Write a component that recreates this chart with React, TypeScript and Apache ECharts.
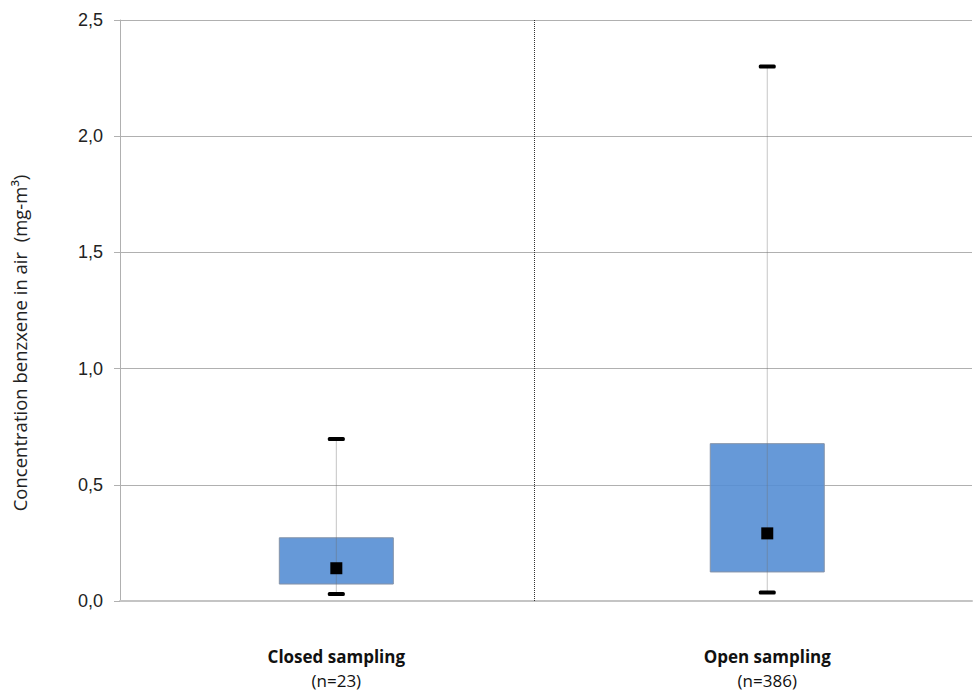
import React, { useEffect, useRef } from "react";
import * as echarts from "echarts";

const categories = ["Closed sampling", "Open sampling"];
const sampleSizes = ["(n=23)", "(n=386)"];
const catPositions = [25.39, 75.97];
const minValues = [0.03, 0.037];
const q1Values = [0.073, 0.125];
const q3Values = [0.272, 0.677];
const maxValues = [0.697, 2.3];
const meanValues = [0.141, 0.291];
const dividerPosition = 48.63;
const yAxisTitle = "Concentration benzxene in air  (mg-m³)";

export default function App() {
  const ref = useRef<HTMLDivElement>(null);
  useEffect(() => {
    if (!ref.current) return;
    const chart = echarts.init(ref.current, null, { renderer: "svg" });
    const data = categories.map((c, i) => [
      catPositions[i],
      minValues[i],
      q1Values[i],
      q3Values[i],
      maxValues[i],
      meanValues[i],
      i,
    ]);
    const renderItem = (params: any, api: any) => {
      const x = api.value(0);
      const idx = api.value(6);
      const pMin = api.coord([x, api.value(1)]);
      const pQ1 = api.coord([x, api.value(2)]);
      const pQ3 = api.coord([x, api.value(3)]);
      const pMax = api.coord([x, api.value(4)]);
      const pMean = api.coord([x, api.value(5)]);
      const pZero = api.coord([x, 0]);
      const cx = pQ1[0];
      const boxW = 114;
      const capW = 17;
      const capH = 4;
      const sq = 12;
      return {
        type: "group",
        children: [
          {
            type: "rect",
            shape: { x: cx - boxW / 2, y: pQ3[1], width: boxW, height: pQ1[1] - pQ3[1] },
            style: { fill: "rgba(85,142,212,0.9)", stroke: "#8593a8", lineWidth: 1 },
          },
          {
            type: "line",
            shape: { x1: cx, y1: pMax[1], x2: cx, y2: pMin[1] },
            style: { stroke: "rgba(110,110,110,0.4)", lineWidth: 1 },
          },
          {
            type: "rect",
            shape: { x: cx - capW / 2, y: pMax[1] - capH / 2, width: capW, height: capH, r: 1.5 },
            style: { fill: "#000" },
          },
          {
            type: "rect",
            shape: { x: cx - capW / 2, y: pMin[1] - capH / 2, width: capW, height: capH, r: 1.5 },
            style: { fill: "#000" },
          },
          {
            type: "rect",
            shape: { x: cx - sq / 2, y: pMean[1] - sq / 2, width: sq, height: sq },
            style: { fill: "#000" },
          },
          {
            type: "text",
            style: {
              text: categories[idx],
              x: cx,
              y: pZero[1] + 55,
              align: "center",
              verticalAlign: "middle",
              fontFamily: "Open Sans",
              fontWeight: "bold",
              fontSize: 17,
              fill: "#111",
            },
          },
          {
            type: "text",
            style: {
              text: sampleSizes[idx],
              x: cx,
              y: pZero[1] + 79,
              align: "center",
              verticalAlign: "middle",
              fontFamily: "Open Sans",
              fontSize: 17,
              fill: "#111",
            },
          },
        ],
      };
    };
    chart.setOption({
      animation: false,
      grid: { left: 120, right: 1, top: 20, bottom: 90 },
      xAxis: {
        type: "value",
        min: 0,
        max: 100,
        axisLine: { show: true, lineStyle: { color: "#c4c4c4", width: 2 } },
        axisTick: { show: false },
        axisLabel: { show: false },
        splitLine: { show: false },
      },
      yAxis: {
        type: "value",
        min: 0,
        max: 2.5,
        interval: 0.5,
        axisLine: { show: true, lineStyle: { color: "#b0b0b0", width: 1 } },
        axisTick: { show: true, length: 6, lineStyle: { color: "#b0b0b0" } },
        splitLine: { show: true, lineStyle: { color: "#b0b0b0", width: 1 } },
        axisLabel: {
          margin: 17,
          fontSize: 18,
          fontFamily: "Liberation Sans",
          color: "#222",
          formatter: (v: number) => v.toFixed(1).replace(".", ","),
        },
      },
      graphic: [
        {
          type: "text",
          x: 19,
          y: 343,
          rotation: Math.PI / 2,
          style: {
            text: yAxisTitle,
            align: "center",
            verticalAlign: "middle",
            fontFamily: "Open Sans",
            fontSize: 18.5,
            fill: "#222",
          },
        },
      ],
      series: [
        {
          type: "custom",
          clip: false,
          renderItem,
          encode: { x: 0, y: [1, 2, 3, 4, 5] },
          data,
          markLine: {
            silent: true,
            symbol: ["none", "none"],
            label: { show: false },
            lineStyle: { type: "dotted", color: "#333", width: 1 },
            data: [{ xAxis: dividerPosition }],
          },
        },
      ],
    });
    return () => chart.dispose();
  }, []);
  return (
    <div
      ref={ref}
      style={{ position: "fixed", left: 0, top: 0, width: 973, height: 691, background: "#fff" }}
    />
  );
}
